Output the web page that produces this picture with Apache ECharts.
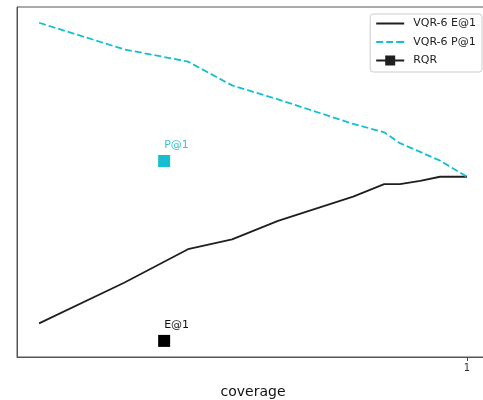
<!DOCTYPE html>
<html><head><meta charset="utf-8">
<script src="https://cdn.jsdelivr.net/npm/echarts@6/dist/echarts.min.js"></script>
<style>html,body{margin:0;padding:0;background:#fff}#c{width:483px;height:400px}</style>
</head><body><div id="c"></div>
<script>
// coverage values (x)
const coverage = [0.049, 0.238, 0.380, 0.478, 0.580, 0.747, 0.816, 0.851, 0.896, 0.940, 1.000];
const vqrE = [9.6, 21.2, 30.8, 33.6, 38.9, 45.8, 49.4, 49.4, 50.3, 51.5, 51.5];
const vqrP = [95.5, 87.9, 84.4, 77.6, 73.6, 66.6, 64.2, 61.1, 58.6, 56.1, 51.5];
const rqrCoverage = 0.327;
const rqrP = 56.0;
const rqrE = 4.6;
const xTicks = [1];

const FONT = 'DejaVu Sans';
const CYAN = '#17becf';
const BLACK = '#1f1f1f';

const chart = echarts.init(document.getElementById('c'), null, {renderer: 'canvas'});
chart.setOption({
  animation: false,
  textStyle: {fontFamily: FONT},
  grid: {left: 17, top: 7, bottom: 43, width: 472, show: true, borderColor: '#555', borderWidth: 1,
    containLabel: false, outerBoundsMode: 'none'},
  xAxis: {
    type: 'value', min: 0, max: 1.0489,
    name: 'coverage', nameLocation: 'middle', nameGap: 28,
    nameTextStyle: {fontFamily: FONT, fontSize: 14, color: '#111'},
    axisLine: {show: true, lineStyle: {color: '#555', width: 1}},
    axisTick: {show: true, customValues: xTicks, length: 4, lineStyle: {color: '#444'}},
    axisLabel: {show: true, customValues: xTicks, fontFamily: FONT, fontSize: 10, color: '#333', margin: 6},
    splitLine: {show: false}
  },
  yAxis: {
    type: 'value', min: 0, max: 100,
    axisLine: {show: true, lineStyle: {color: '#555', width: 1}},
    axisTick: {show: false}, axisLabel: {show: false}, splitLine: {show: false}
  },
  legend: {
    orient: 'vertical', right: 1, top: 14,
    backgroundColor: '#fff', borderColor: '#ccc', borderWidth: 1, borderRadius: 3,
    padding: [4, 6, 6, 6], itemWidth: 28, itemHeight: 12, itemGap: 7.5,
    textStyle: {fontFamily: FONT, fontSize: 11, color: '#222', padding: [0, 0, 0, 4]},
    data: [
      {name: 'VQR-6 E@1', icon: 'path://M0,5h28v2h-28z', itemStyle: {color: BLACK, opacity: 1}},
      {name: 'VQR-6 P@1', icon: 'path://M0,5h7v2h-7zM10,5h7v2h-7zM20,5h8v2h-8z', itemStyle: {color: CYAN, opacity: 1}},
      {name: 'RQR', icon: 'path://M0,5h9v-4h10v4h9v2h-9v4h-10v-4h-9z', itemStyle: {color: BLACK, opacity: 1}}
    ]
  },
  series: [
    {
      name: 'VQR-6 E@1', type: 'line', symbol: 'none',
      data: coverage.map((c, i) => [c, vqrE[i]]),
      lineStyle: {color: BLACK, width: 1.8}, itemStyle: {color: BLACK}
    },
    {
      name: 'VQR-6 P@1', type: 'line', symbol: 'none',
      data: coverage.map((c, i) => [c, vqrP[i]]),
      lineStyle: {color: CYAN, width: 1.8, type: [7, 3]}, itemStyle: {color: CYAN}
    },
    {
      name: 'RQR', type: 'scatter', symbol: 'rect', symbolSize: 12,
      itemStyle: {color: BLACK, opacity: 1},
      label: {show: true, position: 'top', align: 'left', distance: 4, fontFamily: FONT, fontSize: 11},
      data: [
        {value: [rqrCoverage, rqrP], name: 'P@1', itemStyle: {color: CYAN, opacity: 1},
          label: {formatter: 'P@1', color: '#3cc4cc'}},
        {value: [rqrCoverage, rqrE], name: 'E@1', itemStyle: {color: '#000', opacity: 1},
          label: {formatter: 'E@1', color: '#111'}}
      ]
    }
  ]
});
</script></body></html>
